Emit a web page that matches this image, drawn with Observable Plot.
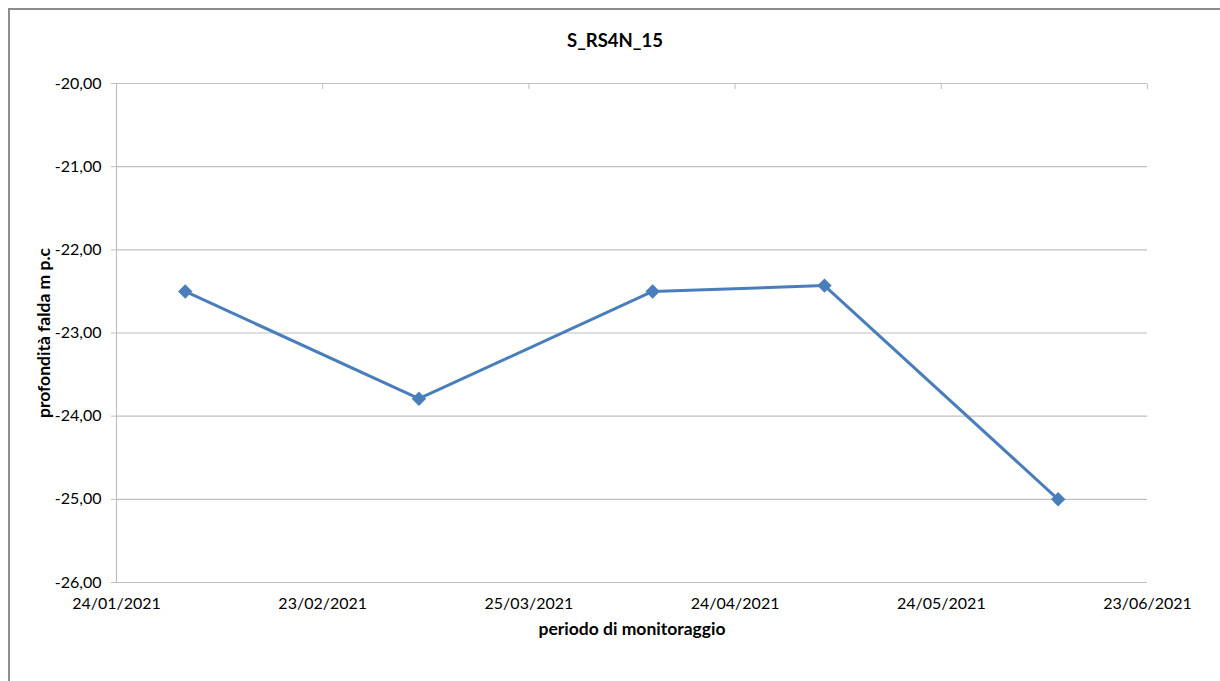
<!DOCTYPE html>
<html>
<head>
<meta charset="utf-8">
<script src="https://cdn.jsdelivr.net/npm/d3@7"></script>
<script src="https://cdn.jsdelivr.net/npm/@observablehq/plot@0.6"></script>
<style>
  html, body { margin: 0; padding: 0; background: #fff; overflow: hidden; }
  #wrap { position: relative; width: 1220px; height: 681px; }
  #frame { position: absolute; left: 8px; top: 8px; width: 1240px; height: 700px;
           border-left: 2px solid #8c8c8c; border-top: 2px solid #8c8c8c; box-sizing: border-box; pointer-events: none; }
  #chart { position: absolute; left: 0; top: 0; }
</style>
</head>
<body>
<div id="wrap"><div id="chart"></div><div id="frame"></div></div>
<script>
const title = "S_RS4N_15";
const xTitle = "periodo di monitoraggio";
const yTitle = "profondità falda m p.c";
const dates = ["2021-02-03", "2021-03-09", "2021-04-12", "2021-05-07", "2021-06-10"];
const depths = [-22.50, -23.79, -22.50, -22.43, -25.00];
const xTickDates = ["2021-01-24", "2021-02-23", "2021-03-25", "2021-04-24", "2021-05-24", "2021-06-23"];
const yTicks = [-26, -25, -24, -23, -22, -21, -20];

const data = dates.map((d, i) => ({date: new Date(d + "T00:00:00Z"), depth: depths[i]}));
const xTicks = xTickDates.map(d => new Date(d + "T00:00:00Z"));
const fmtDate = d3.utcFormat("%d/%m/%Y");
const fmtNum = v => v.toFixed(2).replace(".", ",");
const grey = "#bfbfbf";
const blue = "#4a7ebb";

const chart = Plot.plot({
  width: 1220,
  height: 681,
  marginLeft: 116,
  marginRight: 73,
  marginTop: 83,
  marginBottom: 99,
  style: {fontFamily: "Lato, 'Open Sans', sans-serif", fontSize: "16px", color: "#000", background: "transparent"},
  x: {type: "utc", domain: [xTicks[0], xTicks[xTicks.length - 1]], axis: null},
  y: {domain: [yTicks[0], yTicks[yTicks.length - 1]], axis: null},
  marks: [
    Plot.gridY(yTicks, {stroke: grey, strokeOpacity: 1, strokeWidth: 1.2}),
    Plot.ruleX([xTicks[0]], {stroke: grey, strokeWidth: 1.2}),
    Plot.axisY({ticks: yTicks, label: null, tickSize: 5, tickPadding: 10, tickFormat: fmtNum, stroke: grey, fill: "#000", fontSize: 16}),
    Plot.axisX({anchor: "top", label: null, ticks: xTicks.slice(1), tickSize: 5, dy: 5, tickFormat: () => "", stroke: grey}),
    Plot.axisX({anchor: "bottom", label: null, ticks: xTicks, tickSize: 0, tickPadding: 15, tickFormat: fmtDate, fill: "#000", fontSize: 16}),
    Plot.line(data, {x: "date", y: "depth", stroke: blue, strokeWidth: 3}),
    Plot.dot(data, {x: "date", y: "depth", symbol: "diamond2", r: 6.5, fill: blue, stroke: "none"}),
    Plot.text([title], {frameAnchor: "top", dx: -17, dy: -50, fontWeight: "bold", fontSize: 18.5, fill: "#000"}),
    Plot.text([xTitle], {frameAnchor: "bottom", dy: 52, fontWeight: "bold", fontSize: 17.5, fill: "#000"}),
    Plot.text([yTitle], {frameAnchor: "left", textAnchor: "middle", dx: -72, rotate: -90, fontWeight: "bold", fontSize: 17.5, fill: "#000"})
  ]
});
document.getElementById("chart").appendChild(chart);
</script>
</body>
</html>
